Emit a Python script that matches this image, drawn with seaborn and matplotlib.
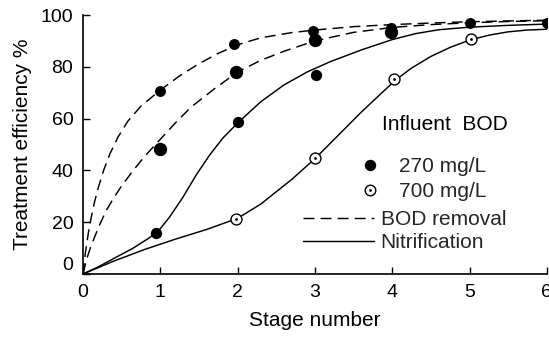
import numpy as np
import pandas as pd
import matplotlib
matplotlib.use("Agg")
import matplotlib.pyplot as plt
import seaborn as sns
from matplotlib.lines import Line2D
from matplotlib.transforms import ScaledTranslation

# ---------------- data ----------------
# BOD removal curves (dashed)
bod_fast_x = [0, 0.03, 0.07, 0.1, 0.15, 0.2, 0.27, 0.35, 0.45, 0.58, 0.75, 1.0, 1.25, 1.5,
              1.75, 2.0, 2.3, 2.7, 3.0, 3.5, 4.0, 4.5, 5.0, 5.5, 6.0]
bod_fast_y = [0, 8, 16, 20.9, 27.9, 33.6, 40.3, 46.5, 52.7, 59, 64.8, 71, 76.5, 81.2,
              85.2, 88.5, 91.2, 93.2, 94.2, 95.5, 96.3, 96.9, 97.4, 97.7, 98.0]
bod_slow_x = [0, 0.05, 0.1, 0.2, 0.3, 0.4, 0.5, 0.65, 0.8, 1.0, 1.2, 1.4, 1.7, 2.0,
              2.3, 2.6, 3.0, 3.5, 4.0, 4.5, 5.0, 5.5, 6.0]
bod_slow_y = [0, 6, 10.5, 18, 24.5, 29.5, 34, 40, 45.5, 52, 58.5, 64.5, 71.5, 78,
              82.5, 86, 90, 93.3, 95.2, 96.3, 97.0, 97.5, 97.8]
# Nitrification curves (solid)
nit270_x = [0, 0.2, 0.43, 0.65, 0.86, 1.0, 1.12, 1.29, 1.47, 1.64, 1.81, 2.0, 2.3, 2.6,
            2.9, 3.2, 3.6, 4.0, 4.3, 4.6, 5.0, 5.5, 6.0]
nit270_y = [0, 2.8, 6.5, 10, 14, 17.5, 22, 29.5, 38.5, 46, 52.5, 58.3, 66.5, 73,
            78, 82, 86.5, 90.5, 92.8, 94.3, 95.3, 96.0, 96.5]
nit700_x = [0, 0.4, 0.8, 1.2, 1.6, 2.0, 2.3, 2.7, 3.0, 3.3, 3.6, 3.85, 4.04, 4.25, 4.5,
            4.75, 5.0, 5.25, 5.5, 5.75, 6.0]
nit700_y = [0, 5, 9.5, 13.5, 17.2, 21.5, 27, 36.5, 44.5, 53.5, 62.5, 69.5, 74.8, 79.5, 84,
            87.5, 90.3, 92.2, 93.5, 94.2, 94.5]

# measured points, influent BOD 270 mg/L (filled)
p270_a_x = [1.0, 1.95, 2.97, 3.98, 5.0, 6.0]
p270_a_y = [70.6, 88.7, 94.0, 95.0, 97.0, 97.0]
p270_b_x = [1.0, 1.98, 3.0, 3.98]
p270_b_y = [48.3, 78.1, 90.5, 93.3]
p270_c_x = [0.95, 2.01, 3.02]
p270_c_y = [15.7, 58.5, 76.8]
# measured points, influent BOD 700 mg/L (open)
p700_x = [1.98, 3.0, 4.02, 5.02]
p700_y = [21.2, 44.7, 75.2, 90.6]

x_ticks = [0, 1, 2, 3, 4, 5, 6]
y_ticks = [0, 20, 40, 60, 80, 100]

# ---------------- figure ----------------
sns.set_theme(style="ticks")
plt.rcParams["font.family"] = ["Liberation Sans", "DejaVu Sans"]

fig = plt.figure(figsize=(5.49, 3.37), dpi=100)
ax = fig.add_axes([83 / 549, 63 / 337, 463.8 / 549, 259 / 337])

dash = (0, (7.5, 4.2))
lw = 1.05
sns.lineplot(x=bod_fast_x, y=bod_fast_y, ax=ax, color="black", lw=lw, linestyle=dash,
             sort=False, estimator=None)
sns.lineplot(x=bod_slow_x, y=bod_slow_y, ax=ax, color="black", lw=lw, linestyle=dash,
             sort=False, estimator=None)
sns.lineplot(x=nit270_x, y=nit270_y, ax=ax, color="black", lw=lw,
             sort=False, estimator=None)
sns.lineplot(x=nit700_x, y=nit700_y, ax=ax, color="black", lw=lw,
             sort=False, estimator=None)

sns.scatterplot(x=p270_a_x, y=p270_a_y, ax=ax, color="black", s=62, linewidth=0, zorder=5)
sns.scatterplot(x=p270_b_x, y=p270_b_y, ax=ax, color="black", s=92, linewidth=0, zorder=5)
sns.scatterplot(x=p270_c_x, y=p270_c_y, ax=ax, color="black", s=66, linewidth=0, zorder=5)
sns.scatterplot(x=p700_x, y=p700_y, ax=ax, color="white", edgecolor="black", s=62,
                linewidth=1.0, zorder=5)
sns.scatterplot(x=p700_x, y=p700_y, ax=ax, color="black", s=4, linewidth=0, zorder=6)

ax.set_xlim(0, 6)
ax.set_ylim(0, 100)
ax.set_xticks(x_ticks)
ax.set_yticks(y_ticks)
ax.set_xticklabels([str(v) for v in x_ticks])
ax.set_yticklabels([str(v) for v in y_ticks])
ax.tick_params(direction="in", length=5, width=1.0, labelsize=14, pad=7, color="black",
               labelcolor="black")
for s in ["top", "right"]:
    ax.spines[s].set_visible(False)
for s in ["left", "bottom"]:
    ax.spines[s].set_linewidth(1.2)
    ax.spines[s].set_color("black")

# raise the y "0" label like in the original
lab0 = ax.yaxis.get_major_ticks()[0].label1
lab0.set_transform(lab0.get_transform() + ScaledTranslation(0, 11 / 100, fig.dpi_scale_trans))

ax.set_xlabel("Stage number", fontsize=15, color="black")
ax.set_ylabel("Treatment efficiency %", fontsize=15, color="black")
ax.xaxis.set_label_coords(0.5, -0.143)
ax.yaxis.set_label_coords(-0.111, 0.5)

# legend
ax.text(0.645, 0.579, "Influent  BOD", transform=ax.transAxes, ha="left", va="center",
        fontsize=15, color="black")
h_filled = Line2D([], [], ls="", marker="o", color="black", markersize=8.2, markeredgewidth=0)
h_open = Line2D([], [], ls="", marker="o", markerfacecolor="white", markeredgecolor="black",
                markersize=7.6, markeredgewidth=1.0)
h_dot = Line2D([], [], ls="", marker="o", color="black", markersize=2, markeredgewidth=0)
legA = ax.legend([h_filled, (h_open, h_dot)], ["270 mg/L", "700 mg/L"],
                 loc="center left", bbox_to_anchor=(0.596, 0.366), frameon=False,
                 fontsize=15, handlelength=1.0, handletextpad=0.9, labelspacing=0.27,
                 borderpad=0, borderaxespad=0)
ax.add_artist(legA)
h_dash = Line2D([], [], color="black", lw=lw, linestyle=dash)
h_solid = Line2D([], [], color="black", lw=lw)
ax.legend([h_dash, h_solid], ["BOD removal", "Nitrification"],
          loc="center left", bbox_to_anchor=(0.4743, 0.166), frameon=False,
          fontsize=15, handlelength=3.4, handletextpad=0.33, labelspacing=0.2,
          borderpad=0, borderaxespad=0)

fig.savefig("out.png", dpi=100)
